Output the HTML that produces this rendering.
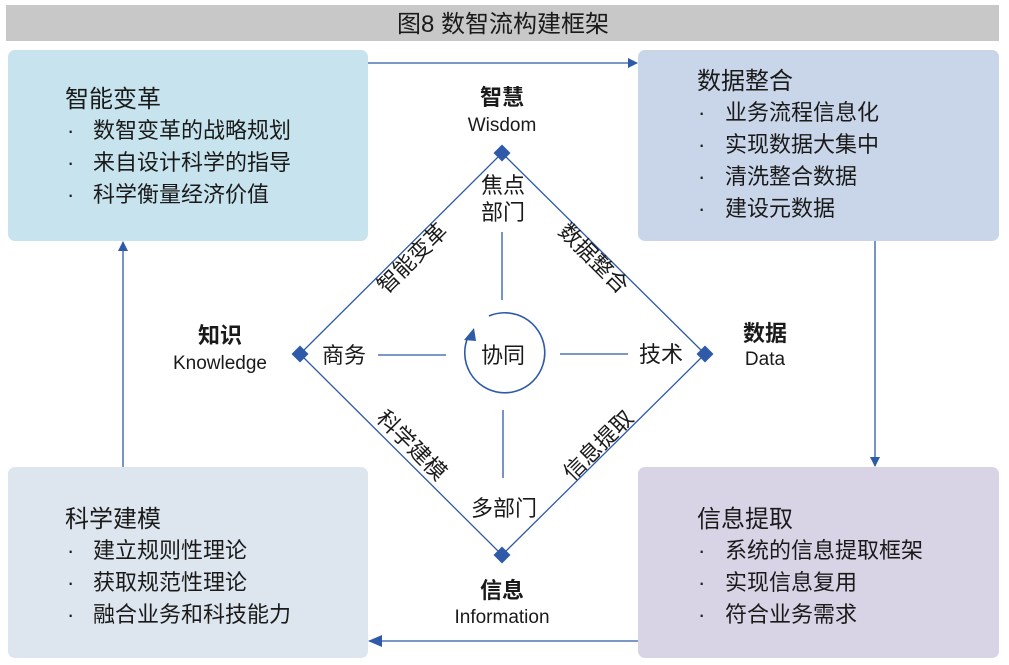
<!DOCTYPE html>
<html><head><meta charset="utf-8"><style>
html,body{margin:0;padding:0;background:#fff}
svg{display:block}
text{font-family:"Liberation Sans","Noto Sans CJK SC",sans-serif;fill:#1a1a1a}
.t{font-size:24px}
.i{font-size:22px}
</style></head><body>
<svg width="1009" height="665" viewBox="0 0 1009 665" xmlns="http://www.w3.org/2000/svg">
<defs>
<marker id="ah" markerWidth="10" markerHeight="10" refX="9" refY="5" orient="auto" markerUnits="userSpaceOnUse">
<path d="M0,0 L10,5 L0,10 z" fill="#2e5aa8"/></marker>
<marker id="ah2" markerWidth="14" markerHeight="12" refX="13" refY="6" orient="auto" markerUnits="userSpaceOnUse">
<path d="M0,0 L14,6 L0,12 z" fill="#2e5aa8"/></marker>
</defs>
<rect x="6" y="5" width="993" height="36" fill="#c8c8c8"/>
<text x="503" y="32" text-anchor="middle" style="font-size:24px">图8 数智流构建框架</text>

<rect x="8" y="50" width="360" height="191" rx="7" fill="#c7e4ee"/>
<rect x="638" y="50" width="361" height="191" rx="7" fill="#c9d6ea"/>
<rect x="8" y="467" width="360" height="191" rx="7" fill="#dde6ee"/>
<rect x="638" y="467" width="361" height="191" rx="7" fill="#d9d3e6"/>

<text x="65" y="107" class="t">智能变革</text>
<text x="697" y="89" class="t">数据整合</text>
<text x="65" y="527" class="t">科学建模</text>
<text x="697" y="527" class="t">信息提取</text>

<text x="67" y="138" class="i">·</text><text x="93" y="138" class="i">数智变革的战略规划</text>
<text x="67" y="170" class="i">·</text><text x="93" y="170" class="i">来自设计科学的指导</text>
<text x="67" y="202" class="i">·</text><text x="93" y="202" class="i">科学衡量经济价值</text>

<text x="698" y="120" class="i">·</text><text x="725" y="120" class="i">业务流程信息化</text>
<text x="698" y="152" class="i">·</text><text x="725" y="152" class="i">实现数据大集中</text>
<text x="698" y="184" class="i">·</text><text x="725" y="184" class="i">清洗整合数据</text>
<text x="698" y="216" class="i">·</text><text x="725" y="216" class="i">建设元数据</text>

<text x="67" y="558" class="i">·</text><text x="93" y="558" class="i">建立规则性理论</text>
<text x="67" y="590" class="i">·</text><text x="93" y="590" class="i">获取规范性理论</text>
<text x="67" y="622" class="i">·</text><text x="93" y="622" class="i">融合业务和科技能力</text>

<text x="698" y="558" class="i">·</text><text x="725" y="558" class="i">系统的信息提取框架</text>
<text x="698" y="590" class="i">·</text><text x="725" y="590" class="i">实现信息复用</text>
<text x="698" y="622" class="i">·</text><text x="725" y="622" class="i">符合业务需求</text>

<g stroke="#2e5aa8" stroke-width="1.3" fill="none">
<line x1="368" y1="63" x2="637" y2="63" marker-end="url(#ah)"/>
<line x1="875" y1="241" x2="875" y2="466" marker-end="url(#ah)"/>
<line x1="638" y1="641" x2="369" y2="641" marker-end="url(#ah2)"/>
<line x1="123" y1="467" x2="123" y2="242" marker-end="url(#ah)"/>
<polygon points="502,153 705,354 502,555 300,354"/>
<line x1="502" y1="232" x2="502" y2="300"/>
<line x1="503" y1="410" x2="503" y2="478"/>
<line x1="378" y1="355" x2="446" y2="355"/>
<line x1="560" y1="354" x2="628" y2="354"/>
<path d="M489,316 A40,40 0 1 1 468,337" stroke-width="1.6"/>
</g>
<polygon points="474,328 464,340 476,341" fill="#2e5aa8"/>
<g fill="#2e5aa8">
<rect x="496" y="147" width="12" height="12" transform="rotate(45 502 153)"/>
<rect x="699" y="348" width="12" height="12" transform="rotate(45 705 354)"/>
<rect x="496" y="549" width="12" height="12" transform="rotate(45 502 555)"/>
<rect x="294" y="348" width="12" height="12" transform="rotate(45 300 354)"/>
</g>

<g text-anchor="middle">
<text x="502" y="105" style="font-size:22px;font-weight:bold">智慧</text>
<text x="502" y="131" style="font-size:19px">Wisdom</text>
<text x="220" y="343" style="font-size:22px;font-weight:bold">知识</text>
<text x="220" y="369" style="font-size:19px">Knowledge</text>
<text x="765" y="341" style="font-size:22px;font-weight:bold">数据</text>
<text x="765" y="365" style="font-size:19px">Data</text>
<text x="502" y="598" style="font-size:22px;font-weight:bold">信息</text>
<text x="502" y="623" style="font-size:19px">Information</text>

<text x="503" y="193" class="i">焦点</text>
<text x="503" y="220" class="i">部门</text>
<text x="344" y="363" class="i">商务</text>
<text x="661" y="362" class="i">技术</text>
<text x="503" y="363" class="i">协同</text>
<text x="504" y="516" class="i">多部门</text>
<text x="412" y="266" class="i" transform="rotate(-45 412 258)">智能变革</text>
<text x="594" y="266" class="i" transform="rotate(45 594 258)">数据整合</text>
<text x="412" y="453" class="i" transform="rotate(45 412 445)">科学建模</text>
<text x="598" y="453" class="i" transform="rotate(-45 598 445)">信息提取</text>
</g>
</svg>
</body></html>
